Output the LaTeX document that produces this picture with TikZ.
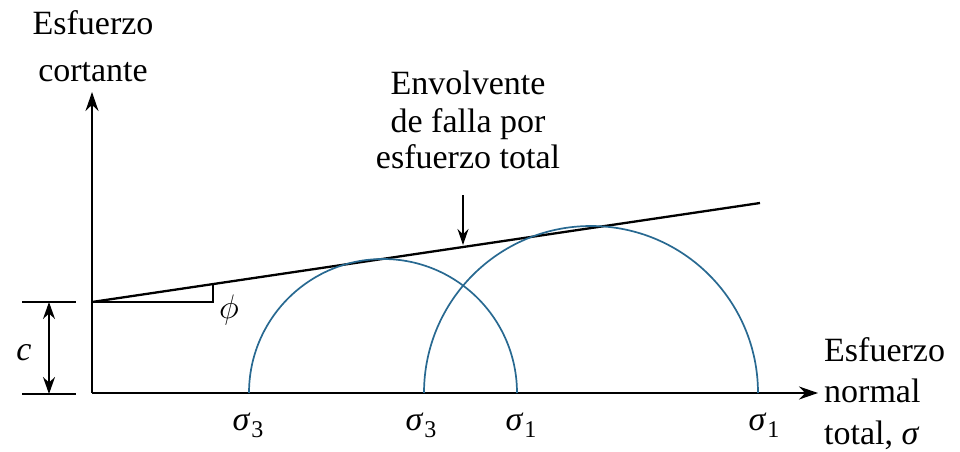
\RequirePackage{fix-cm}
\documentclass[tikz,border=0pt]{standalone}
\usepackage{fontspec}
\setmainfont{Liberation Serif}
\usetikzlibrary{arrows.meta}
\definecolor{circblue}{RGB}{40,105,145}
\newcommand{\sigl}[1]{\textit{σ}\kern1pt\raisebox{-7pt}{\fontsize{24}{24}\selectfont #1}}
\begin{document}
\begin{tikzpicture}[x=1pt,y=1pt,
  lbl/.style={font=\fontsize{34}{37}\selectfont, inner sep=0pt},
  axis/.style={line width=2pt, -{Stealth[length=19pt,width=13pt]}},
  thin/.style={line width=1.6pt},
  mohr/.style={line width=1.7pt, circblue},
  dim/.style={line width=1.6pt, {Stealth[length=17pt,width=12pt]}-{Stealth[length=17pt,width=12pt]}}]
\useasboundingbox (0,0) rectangle (960,451);
% axes
\coordinate (O) at (92,58);
\coordinate (ytip) at (92,359);
\coordinate (xtip) at (818,58);
\draw[axis] (O) -- (ytip);
\draw[axis] (O) -- (xtip);
% envelope
\coordinate (A) at (92,149);
\coordinate (B) at (760,248);
\draw[line width=2.3pt] (A) -- (B);
% phi triangle
\coordinate (P1) at (213,149);
\coordinate (P2) at (213,167);
\draw[thin] (A) -- (P1) -- (P2);
\node[lbl, anchor=base] (phi) at (229,133) {$\phi$};
% c dimension
\coordinate (ct1) at (22,149); \coordinate (ct2) at (76,149);
\coordinate (cb1) at (22,57); \coordinate (cb2) at (76,57);
\draw[thin] (ct1) -- (ct2);
\draw[thin] (cb1) -- (cb2);
\coordinate (cdt) at (49,149); \coordinate (cdb) at (49,57);
\draw[dim] (cdt) -- (cdb);
\node[lbl, anchor=base] (c) at (24,91) {\textit{c}};
% Mohr circles
\coordinate (s3a) at (249,58);
\coordinate (s3b) at (424,58);
\draw[mohr] (s3a) arc[start angle=180, end angle=0, radius=134];
\draw[mohr] (s3b) arc[start angle=180, end angle=0, radius=167];
% sigma labels
\node[lbl, anchor=base] (l1) at (248,21) {\sigl{3}};
\node[lbl, anchor=base] (l2) at (421,21) {\sigl{3}};
\node[lbl, anchor=base] (l3) at (521,21) {\sigl{1}};
\node[lbl, anchor=base] (l4) at (764,21) {\sigl{1}};
% y-axis label
\node[lbl, anchor=base] (ya) at (93,416) {Esfuerzo};
\node[lbl, anchor=base] (yb) at (93,370) {cortante};
% envelope label
\node[lbl, anchor=base] (ea) at (468,357) {Envolvente};
\node[lbl, anchor=base] (eb) at (468,319) {de falla por};
\node[lbl, anchor=base] (ec) at (468,283) {esfuerzo total};
\coordinate (etip) at (463,206);
\draw[line width=1.6pt, -{Stealth[length=16pt,width=11pt]}] (463,256) -- (etip);
% x-axis label
\node[lbl, anchor=base west] (xa) at (824,90) {Esfuerzo};
\node[lbl, anchor=base west] (xb) at (824,49) {normal};
\node[lbl, anchor=base west] (xc) at (824,7) {total, \textit{σ}};
\end{tikzpicture}
\end{document}
